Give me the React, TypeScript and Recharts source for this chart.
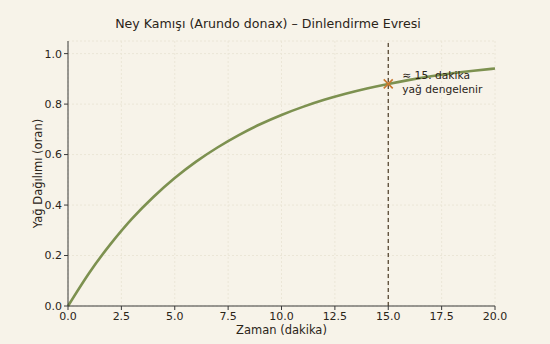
import { LineChart, Line, XAxis, YAxis, CartesianGrid, ReferenceLine, ReferenceDot } from 'recharts';

const minutes = [0, 1, 2, 3, 4, 5, 6, 7, 8, 9, 10, 11, 12, 13, 14, 15, 16, 17, 18, 19, 20];
const spread = [0, 0.132, 0.246, 0.346, 0.432, 0.507, 0.572, 0.628, 0.677, 0.72, 0.757, 0.789, 0.817, 0.841, 0.862, 0.88, 0.896, 0.91, 0.922, 0.932, 0.941];
const xTicks = [0, 2.5, 5, 7.5, 10, 12.5, 15, 17.5, 20];
const yTicks = [0, 0.2, 0.4, 0.6, 0.8, 1.0];
const restMinute = 15;
const restValue = 0.88;
const noteLines = ['≈ 15. dakika', 'yağ dengelenir'];

const data = minutes.map((t, i) => ({ t, y: spread[i] }));

const font = 'DejaVu Sans, sans-serif';
const ink = '#2b2418';

const Marker = (props: any) => {
  const { cx, cy } = props;
  const s = 4.5;
  return (
    <g>
      <path
        d={`M${cx - s},${cy - s}L${cx + s},${cy + s}M${cx - s},${cy + s}L${cx + s},${cy - s}`}
        stroke="#c8782e"
        strokeWidth={1.6}
      />
      {noteLines.map((l, i) => (
        <text key={l} x={cx + 14} y={cy - 5 + i * 14} fontSize={10.7} fontFamily={font} fill={ink}>
          {l}
        </text>
      ))}
    </g>
  );
};

export default function App() {
  return (
    <div style={{ position: 'fixed', left: 0, top: 0, width: 550, height: 344, background: '#f7f3e9' }}>
      <LineChart width={550} height={344} data={data} margin={{ top: 41, right: 55, bottom: 0, left: 0 }}>
        <text x={268} y={28} textAnchor="middle" fontSize={12.6} fontFamily={font} fill={ink}>
          Ney Kamışı (Arundo donax) – Dinlendirme Evresi
        </text>
        <CartesianGrid stroke="#ebe6d7" strokeDasharray="2 2" />
        <XAxis
          dataKey="t"
          type="number"
          domain={[0, 20]}
          ticks={xTicks}
          tickFormatter={(v: number) => v.toFixed(1)}
          height={38}
          stroke="#3a3a3a"
          tickSize={4}
          tick={{ fontSize: 11, fontFamily: font, fill: ink }}
          label={{ value: 'Zaman (dakika)', position: 'insideBottom', offset: 10, fontSize: 11.5, fontFamily: font, fill: ink }}
        />
        <YAxis
          type="number"
          domain={[0, 1.05]}
          ticks={yTicks}
          tickFormatter={(v: number) => v.toFixed(1)}
          width={68}
          stroke="#3a3a3a"
          tickSize={4}
          tick={{ fontSize: 11, fontFamily: font, fill: ink }}
          label={{ value: 'Yağ Dağılımı (oran)', angle: -90, position: 'insideLeft', offset: 38, style: { textAnchor: 'middle' }, fontSize: 11.5, fontFamily: font, fill: ink }}
        />
        <ReferenceLine x={restMinute} stroke="#4a3b26" strokeDasharray="4 3" strokeWidth={1.2} />
        <Line
          type="natural"
          dataKey="y"
          stroke="#7d9150"
          strokeWidth={2.6}
          dot={false}
          isAnimationActive={false}
        />
        <ReferenceDot x={restMinute} y={restValue} r={4} shape={Marker} />
      </LineChart>
    </div>
  );
}
